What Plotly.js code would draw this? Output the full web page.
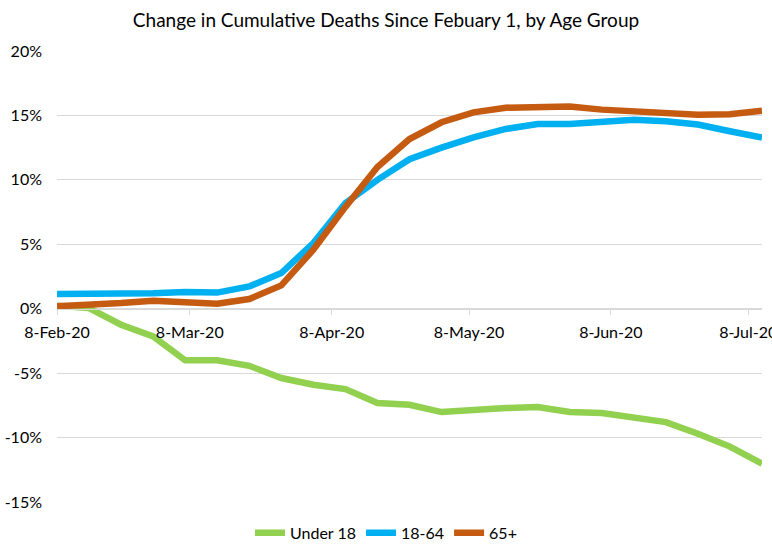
<!DOCTYPE html>
<html>
<head>
<meta charset="utf-8">
<script src="https://cdn.plot.ly/plotly-3.0.1.min.js"></script>
<style>html,body{margin:0;padding:0;background:#fff;}#chart{width:772px;height:547px;}</style>
</head>
<body>
<div id="chart"></div>
<script>
// Weekly dates (Saturdays)
const dates = ['2020-02-08','2020-02-15','2020-02-22','2020-02-29','2020-03-07','2020-03-14','2020-03-21','2020-03-28',
  '2020-04-04','2020-04-11','2020-04-18','2020-04-25','2020-05-02','2020-05-09','2020-05-16','2020-05-23',
  '2020-05-30','2020-06-06','2020-06-13','2020-06-20','2020-06-27','2020-07-04','2020-07-11'];

const under18 = [0.23, 0.05, -1.24, -2.15, -4.0, -4.0, -4.43, -5.38, -5.9, -6.24, -7.32, -7.45,
  -8.02, -7.84, -7.71, -7.63, -8.02, -8.1, -8.49, -8.8, -9.7, -10.7, -12.03];
const age18_64 = [1.14, 1.14, 1.25, 1.2, 1.3, 1.25, 1.73, 2.77, 5.1, 8.2, 10.0, 11.6,
  12.5, 13.3, 13.95, 14.34, 14.34, 14.5, 14.67, 14.55, 14.3, 13.77, 13.28];
const age65plus = [0.2, 0.26, 0.44, 0.62, 0.5, 0.39, 0.75, 1.81, 4.58, 7.9, 11.0, 13.17,
  14.47, 15.24, 15.6, 15.6, 15.7, 15.45, 15.3, 15.2, 15.06, 15.1, 15.37];

const xTickVals = ['2020-02-08','2020-03-08','2020-04-08','2020-05-08','2020-06-08','2020-07-08'];
const xTickText = ['8-Feb-20','8-Mar-20','8-Apr-20','8-May-20','8-Jun-20','8-Jul-20'];
const yTickVals = [-15, -10, -5, 0, 5, 10, 15, 20];
const yTickText = ['-15%','-10%','-5%','0%','5%','10%','15%','20%'];

const FONT = "Lato, 'Open Sans', sans-serif";

const traces = [
  {x: dates, y: under18, name: 'Under 18', mode: 'lines', line: {color: '#92d050', width: 6.5}},
  {x: dates, y: age18_64, name: '18-64', mode: 'lines', line: {color: '#00b0f0', width: 6.5}},
  {x: dates, y: age65plus, name: '65+', mode: 'lines', line: {color: '#c55a11', width: 6.5}}
];

const layout = {
  width: 772, height: 547,
  margin: {l: 57, r: 10, t: 51, b: 45, autoexpand: false},
  paper_bgcolor: '#fff', plot_bgcolor: '#fff',
  font: {family: FONT, color: '#000', size: 15},
  title: {text: 'Change in Cumulative Deaths Since Febuary 1, by Age Group',
    font: {family: FONT, size: 19, color: '#000'},
    x: 0.5, xref: 'container', xanchor: 'center', y: 0.963, yref: 'container', yanchor: 'middle'},
  xaxis: {
    type: 'date', range: ['2020-02-08', '2020-07-11'],
    tickvals: xTickVals, ticktext: xTickText, tickangle: 0,
    ticks: 'outside', ticklen: 5, tickcolor: '#d9d9d9',
    showline: true, linecolor: '#d9d9d9', linewidth: 1,
    showgrid: false, zeroline: false, automargin: false,
    ticklabeloverflow: 'allow', ticklabelstandoff: 4,
    anchor: 'free', position: 15/35,
    tickfont: {family: FONT, size: 16, color: '#000'}
  },
  yaxis: {
    range: [-15, 20], tickvals: yTickVals, ticktext: yTickText,
    anchor: 'free', position: 0, automargin: false,
    showgrid: true, gridcolor: '#d9d9d9', gridwidth: 1,
    zeroline: false, showline: false, ticks: '',
    ticklabelstandoff: 15,
    tickfont: {family: FONT, size: 16, color: '#000'}
  },
  showlegend: true,
  legend: {orientation: 'h', x: 0.5, xanchor: 'center', xref: 'container', y: 0.026, yref: 'container', yanchor: 'middle',
    font: {family: FONT, size: 16, color: '#000'}, itemwidth: 30, bgcolor: 'rgba(0,0,0,0)'}
};

Plotly.newPlot('chart', traces, layout, {displayModeBar: false, staticPlot: true});
</script>
</body>
</html>
